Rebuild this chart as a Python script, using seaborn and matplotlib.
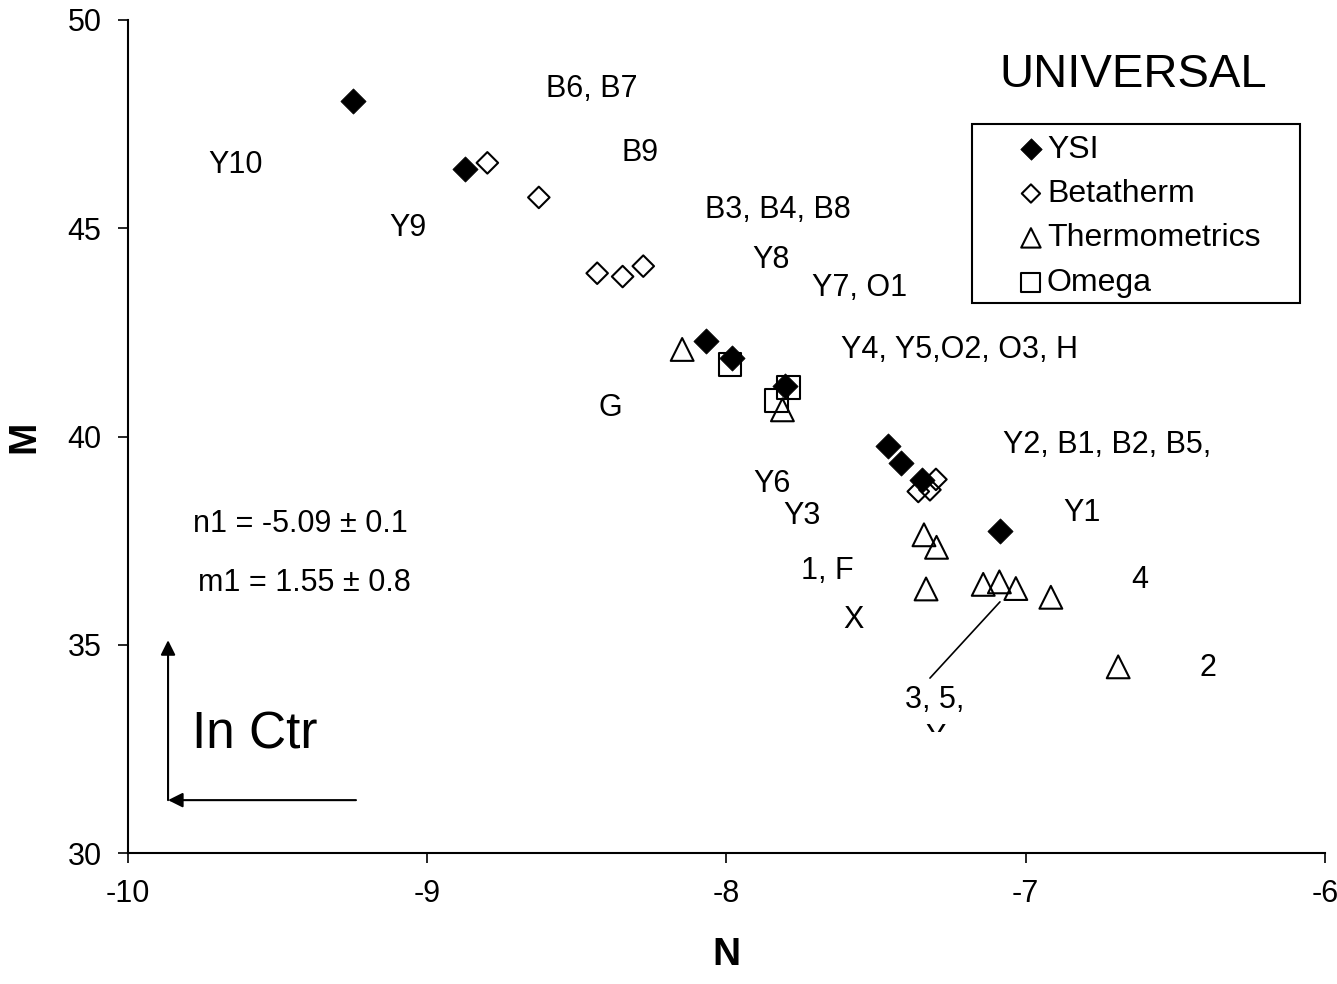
import matplotlib.pyplot as plt
import matplotlib.patches as mpatches
import numpy as np
import pandas as pd
import seaborn as sns

# series values
ysi_n = [-9.248, -8.874, -8.070, -7.983, -7.805, -7.461, -7.418, -7.348, -7.086]
ysi_m = [48.06, 46.42, 42.30, 41.88, 41.21, 39.78, 39.36, 38.96, 37.72]

beta_n = [-8.799, -8.627, -8.432, -8.347, -8.278, -7.359, -7.320, -7.300]
beta_m = [46.57, 45.74, 43.92, 43.84, 44.09, 38.68, 38.72, 38.97]

thermo_n = [-8.148, -7.813, -7.340, -7.298, -7.333, -7.142, -7.088, -7.033, -6.916, -6.691]
thermo_m = [42.09, 40.64, 37.64, 37.34, 36.34, 36.45, 36.51, 36.35, 36.14, 34.47]

omega_n = [-7.988, -7.793, -7.833]
omega_m = [41.73, 41.18, 40.86]

# point labels
lab_text = ['Y10', 'Y9', 'B6, B7', 'B9', 'B3, B4, B8', 'Y8', 'Y7, O1',
            'Y4, Y5,O2, O3, H', 'G', 'Y2, B1, B2, B5,', 'Y6', 'Y3', 'Y1',
            '1, F', '4', 'X', '2', '3, 5,']
lab_n = [-9.64, -9.064, -8.45, -8.289, -7.828, -7.851, -7.554,
         -7.22, -8.389, -6.728, -7.848, -7.748, -6.812,
         -7.664, -6.618, -7.577, -6.391, -7.303]
lab_m = [46.52, 45.0, 48.34, 46.8, 45.44, 44.24, 43.57,
         42.08, 40.68, 39.8, 38.86, 38.09, 38.16,
         36.77, 36.55, 35.59, 34.44, 33.67]

# leader line for "3, 5," and the In Ctr arrows
leader_n = [-7.086, -7.32]
leader_m = [36.03, 34.2]
arrow_origin = (-9.866, 31.27)
arrow_up_end = (-9.866, 35.11)
arrow_left_start = (-9.238, 31.27)

sns.set_theme(style='ticks')
plt.rcParams['font.family'] = ['Liberation Sans', 'DejaVu Sans']
plt.rcParams['text.color'] = 'black'
plt.rcParams['axes.labelcolor'] = 'black'
plt.rcParams['xtick.color'] = 'black'
plt.rcParams['ytick.color'] = 'black'

fig = plt.figure(figsize=(13.37, 9.84), dpi=100)
ax = fig.add_axes([0.0957, 0.1331, 0.8953, 0.8466])

sns.scatterplot(x=thermo_n, y=thermo_m, marker='^', s=270, facecolors='none',
                edgecolors='black', linewidth=1.5, ax=ax, label='Thermometrics', zorder=3)
sns.scatterplot(x=omega_n, y=omega_m, marker='s', s=260, facecolors='none',
                edgecolors='black', linewidth=1.5, ax=ax, label='Omega', zorder=3)
sns.scatterplot(x=ysi_n, y=ysi_m, marker='D', s=165, color='black',
                edgecolor='black', linewidth=0.5, ax=ax, label='YSI', zorder=4)
sns.scatterplot(x=beta_n, y=beta_m, marker='D', s=120, facecolors='none',
                edgecolors='black', linewidth=1.5, ax=ax, label='Betatherm', zorder=5)

for t, xn, ym in zip(lab_text, lab_n, lab_m):
    ax.text(xn, ym, t, fontsize=22, ha='center', va='center')

# the clipped second line under "3, 5,"
clip = mpatches.Rectangle((-7.6, 32.9), 0.6, 1.5, transform=ax.transData)
ty = ax.text(-7.303, 32.75, 'Y', fontsize=22, ha='center', va='center')
ty.set_clip_path(clip)
ty.set_clip_on(True)

ax.plot(leader_n, leader_m, color='black', lw=1.2)

ax.text(-9.425, 37.9, 'n1 = -5.09 \u00b1 0.1', fontsize=22, ha='center', va='center')
ax.text(-9.409, 36.48, 'm1 = 1.55 \u00b1 0.8', fontsize=22, ha='center', va='center')
ax.text(-9.576, 32.83, 'In Ctr', fontsize=37, ha='center', va='center')
ax.text(-6.642, 48.68, 'UNIVERSAL', fontsize=34, ha='center', va='center')

ax.annotate('', xy=arrow_up_end, xytext=arrow_origin,
            arrowprops=dict(arrowstyle='-|>', color='black', lw=1.5, mutation_scale=22,
                            shrinkA=0, shrinkB=0))
ax.annotate('', xy=arrow_origin, xytext=arrow_left_start,
            arrowprops=dict(arrowstyle='-|>', color='black', lw=1.5, mutation_scale=22,
                            shrinkA=0, shrinkB=0))

ax.set_xlim(-10, -6)
ax.set_ylim(30, 50)
ax.set_xticks([-10, -9, -8, -7, -6])
ax.set_yticks([30, 35, 40, 45, 50])
ax.set_xticklabels(['-10', '-9', '-8', '-7', '-6'])
ax.tick_params(axis='both', labelsize=22, length=7, width=1.2, color='black',
               direction='out', pad=12)
for side in ['top', 'right']:
    ax.spines[side].set_visible(False)
for side in ['left', 'bottom']:
    ax.spines[side].set_linewidth(1.5)
    ax.spines[side].set_color('black')

ax.set_xlabel('N', fontsize=28, fontweight='bold', labelpad=20)
ax.set_ylabel('M', fontsize=28, fontweight='bold', labelpad=18)

# legend box drawn separately, legend itself frameless
ax.add_patch(mpatches.Rectangle((0.7051, 0.6603), 0.274, 0.2149, transform=ax.transAxes,
                                facecolor='white', edgecolor='black', lw=1.5, zorder=6))
handles, labels = ax.get_legend_handles_labels()
order = [labels.index(k) for k in ['YSI', 'Betatherm', 'Thermometrics', 'Omega']]
leg = ax.legend([handles[i] for i in order], [labels[i] for i in order],
                loc='upper left', bbox_to_anchor=(0.733, 0.874), borderaxespad=0,
                fontsize=23, frameon=False, markerscale=0.85,
                handlelength=1.0, handletextpad=0.0,
                labelspacing=0.45, borderpad=0.3)
leg.set_zorder(7)

plt.savefig('out.png', dpi=100)
